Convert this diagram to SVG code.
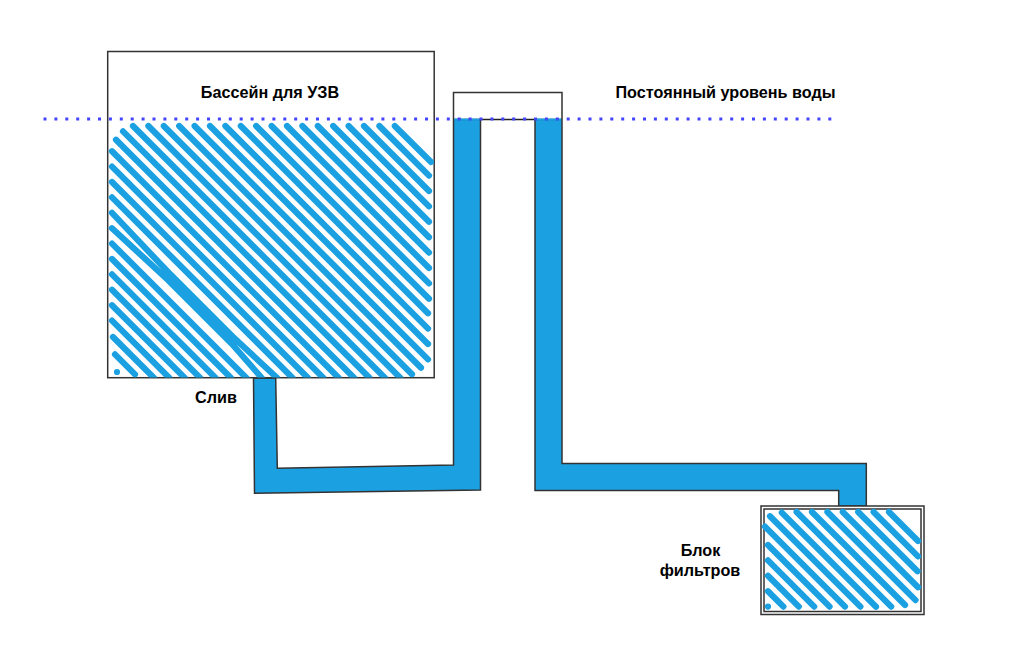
<svg xmlns="http://www.w3.org/2000/svg" width="1024" height="653" viewBox="0 0 1024 653">
<style>
.box{fill:#fff;stroke:#333;stroke-width:1.5}
.pipe{fill:#1ba1e2;stroke:#333;stroke-width:1.5;stroke-linejoin:miter}
.cap{fill:#1ba1e2}
.hatch{fill:none;stroke:#1ba1e2;stroke-width:6.2;stroke-linecap:round;stroke-linejoin:round}
.label{font-family:"Liberation Sans",Arial,sans-serif;font-size:16.2px;font-weight:bold;fill:#000}
.level{fill:none;stroke:#4444ff;stroke-width:3;stroke-dasharray:3 7.9}
</style>
<defs>
<clipPath id="poolClip"><rect x="108" y="52" width="326" height="325.5"/></clipPath>
</defs>
<rect width="1024" height="653" fill="#fff"/>
<g id="connectors">
<path class="box" d="M453.5 119V92.5H562V119"/>
<path class="pipe" d="M253.5 378L254.5 493.3L480.5 490V119.5H453.5V465L277.3 468.3L275.7 378Z"/>
<rect class="cap" x="454.3" y="118.5" width="25.4" height="2.2"/>
<path class="pipe" d="M535 119.5V490.5H838.7V506H866.3V463.5H562V119.5Z"/>
<rect class="cap" x="535.8" y="118.5" width="25.4" height="2.2"/>
<path d="M480.5 119.5H535" fill="none" stroke="#222" stroke-width="1.5"/>
</g>
<g id="pool">
<rect class="box" x="107.7" y="51.5" width="326.5" height="326.2"/>
<g class="hatch" clip-path="url(#poolClip)">
<path d="M394.8 126L431 162M379.4 126L429 175.6M364 126L429 191M348.6 126L429 206.4M333.2 126L429 221.8M317.8 126L429 237.2M302.4 126L429 252.6M287 126L429 268M271.6 126L429 283.4M256.2 126L429 298.8M240.8 126L428 313.2M225.4 126L428 328.6M210 126L428 344M194.6 126L428 359.4M179.2 126L421 367.8M163.8 126L412 374.2M148.4 126L400.4 378M133 126L385 378M123 131.4L369.6 378M116 139.8L354.2 378M112 151.2L338.8 378M112 166.6L323.4 378M112 182L308 378M112 197.4L292.6 378M112 212.8L168 272L232 336L277.2 378M112 228.2L168 280L232 344L261.8 378M112 243.6L246.4 378M112 259L231 378M112 274.4L215.6 378M112 289.8L200.2 378M112 305.2L184.8 378M112 320.6L169.4 378M113 337L154 378M115 354.4L135 374.4M117 372L117 372"/>
</g>
<text class="label" x="270" y="97.5" text-anchor="middle">Бассейн для УЗВ</text>
</g>
<g id="level">
<path class="level" d="M43.5 119H832"/>
<text class="label" x="725.5" y="97.5" text-anchor="middle">Постоянный уровень воды</text>
</g>
<g id="drain">
<text class="label" x="216" y="402.5" text-anchor="middle">Слив</text>
</g>
<g id="filters">
<rect class="box" x="761" y="506" width="163" height="108.5"/>
<rect class="box" x="764" y="509" width="157" height="102.5"/>
<g class="hatch">
<path d="M889 512L918 541M873.6 512L918 556.4M858.2 512L917.5 571.3M842.8 512L918 587.2M827.4 512L915.5 600.1M812 512L905 605M796.6 512L891.2 606.6M781.8 512.6L876 606.8M770 516.2L860.4 606.6M765 526.6L845 606.6M768 545L829.6 606.6M768 560.4L814.2 606.6M768 575.8L798.8 606.6M768 591.2L783.4 606.6M768 606.6L768 606.6"/>
</g>
<text class="label" x="700.5" y="555.5" text-anchor="middle">Блок</text>
<text class="label" x="700" y="575.5" text-anchor="middle">фильтров</text>
</g>
</svg>
